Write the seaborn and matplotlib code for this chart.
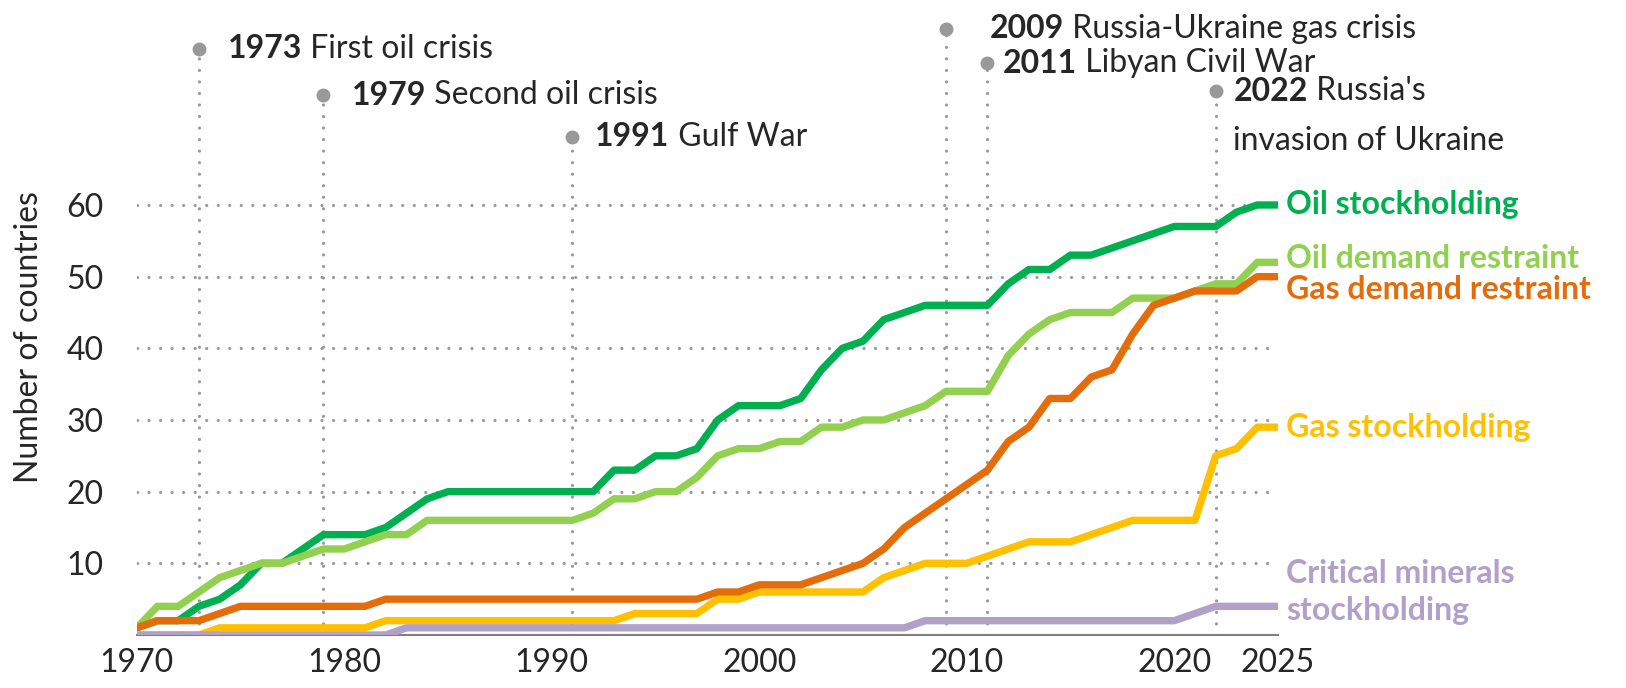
import pandas as pd
import seaborn as sns
import matplotlib.pyplot as plt

# data, one value per year 1970-2025
years = list(range(1970, 2026))
oil_stockholding = [1, 2, 2, 4, 5, 7, 10, 10, 12, 14, 14, 14, 15, 17, 19, 20, 20, 20, 20, 20,
                    20, 20, 20, 23, 23, 25, 25, 26, 30, 32, 32, 32, 33, 37, 40, 41, 44, 45, 46, 46,
                    46, 46, 49, 51, 51, 53, 53, 54, 55, 56, 57, 57, 57, 59, 60, 60]
oil_demand = [1, 4, 4, 6, 8, 9, 10, 10, 11, 12, 12, 13, 14, 14, 16, 16, 16, 16, 16, 16,
              16, 16, 17, 19, 19, 20, 20, 22, 25, 26, 26, 27, 27, 29, 29, 30, 30, 31, 32, 34,
              34, 34, 39, 42, 44, 45, 45, 45, 47, 47, 47, 48, 49, 49, 52, 52]
gas_stockholding = [0, 0, 0, 0, 1, 1, 1, 1, 1, 1, 1, 1, 2, 2, 2, 2, 2, 2, 2, 2,
                    2, 2, 2, 2, 3, 3, 3, 3, 5, 5, 6, 6, 6, 6, 6, 6, 8, 9, 10, 10,
                    10, 11, 12, 13, 13, 13, 14, 15, 16, 16, 16, 16, 25, 26, 29, 29]
gas_demand = [1, 2, 2, 2, 3, 4, 4, 4, 4, 4, 4, 4, 5, 5, 5, 5, 5, 5, 5, 5,
              5, 5, 5, 5, 5, 5, 5, 5, 6, 6, 7, 7, 7, 8, 9, 10, 12, 15, 17, 19,
              21, 23, 27, 29, 33, 33, 36, 37, 42, 46, 47, 48, 48, 48, 50, 50]
critical_minerals = [0, 0, 0, 0, 0, 0, 0, 0, 0, 0, 0, 0, 0, 1, 1, 1, 1, 1, 1, 1,
                     1, 1, 1, 1, 1, 1, 1, 1, 1, 1, 1, 1, 1, 1, 1, 1, 1, 1, 2, 2,
                     2, 2, 2, 2, 2, 2, 2, 2, 2, 2, 2, 3, 4, 4, 4, 4]

series = ['Oil stockholding', 'Oil demand restraint', 'Gas stockholding',
          'Gas demand restraint', 'Critical minerals stockholding']
series_labels = ['Oil stockholding', 'Oil demand restraint', 'Gas stockholding',
                 'Gas demand restraint', 'Critical minerals\nstockholding']
colors = ['#00B050', '#92D050', '#FFC000', '#E46C0A', '#B1A0C7']
label_dy = [0, 0.5, 0, -1.8, 2.0]

event_years = [1973, 1979, 1991, 2009, 2011, 2022]
event_texts = [' First oil crisis', ' Second oil crisis', ' Gulf War',
               ' Russia-Ukraine gas crisis', ' Libyan Civil War', " Russia's"]
event_level = [81.8, 75.3, 69.5, 84.6, 79.8, 75.9]
event_text_dx = [1.4, 1.35, 1.1, 2.1, 0.75, 0.85]

df = pd.DataFrame({'year': years,
                   series[0]: oil_stockholding,
                   series[1]: oil_demand,
                   series[2]: gas_stockholding,
                   series[3]: gas_demand,
                   series[4]: critical_minerals})
df = df.melt(id_vars='year', var_name='series', value_name='countries')

sns.set_style('white')
plt.rcParams['font.family'] = ['Lato', 'DejaVu Sans']
plt.rcParams['font.size'] = 23

grey = '#999999'
dots = (0, (0.01, 3.6))

fig = plt.figure(figsize=(16.26, 6.88), dpi=100)
ax = fig.add_axes([136.7 / 1626, 53 / 688, (1278 - 136.7) / 1626, 635 / 688])

# event markers first so the series sit on top
for yr, lvl in zip(event_years, event_level):
    ax.plot([yr, yr], [0, lvl], color=grey, lw=2.3, linestyle=dots,
            dash_capstyle='round', zorder=1)
    ax.plot([yr], [lvl], 'o', color=grey, ms=9, zorder=1)

sns.lineplot(data=df, x='year', y='countries', hue='series', hue_order=series,
             palette=colors, linewidth=5.3, legend=False, ax=ax,
             solid_capstyle='round', zorder=3)

# series labels at the right end
for name, lab, col, dy in zip(series, series_labels, colors, label_dy):
    last = df[(df.series == name) & (df.year == years[-1])].countries.iloc[0]
    ax.text(years[-1] + 0.4, last + dy, lab, color=col, weight='bold',
            va='center', ha='left', linespacing=1.3)

# event annotations: bold year followed by regular text
for yr, txt, lvl, dx in zip(event_years, event_texts, event_level, event_text_dx):
    t = ax.text(yr + dx, lvl, str(yr), weight='bold', va='center', ha='left', zorder=4)
    ax.annotate(txt, xy=(1, 0.5), xycoords=t, va='center', ha='left')
ax.text(event_years[-1] + event_text_dx[-1], event_level[-1] - 7.0, 'invasion of Ukraine',
        va='center', ha='left')

ax.set_xlim(1970, 2025)
ax.set_ylim(0, 88.6)
ax.set_xticks([1970, 1980, 1990, 2000, 2010, 2020, 2025])
ax.set_yticks([10, 20, 30, 40, 50, 60])
ax.yaxis.grid(True, color=grey, lw=2.3, linestyle=dots, dash_capstyle='round')
ax.xaxis.grid(False)
ax.tick_params(axis='y', length=0, pad=24, labelsize=23)
ax.tick_params(axis='x', length=0, pad=9, labelsize=23)
ax.set_xlabel('')
ax.set_ylabel('')
for s in ['top', 'right', 'left']:
    ax.spines[s].set_visible(False)
ax.spines['bottom'].set_color('#7f7f7f')
ax.spines['bottom'].set_linewidth(1.5)

fig.text(29 / 1626, 1 - 337 / 688, 'Number of countries', rotation=90,
         ha='center', va='center', fontsize=23)

fig.savefig('out.png', dpi=100)
